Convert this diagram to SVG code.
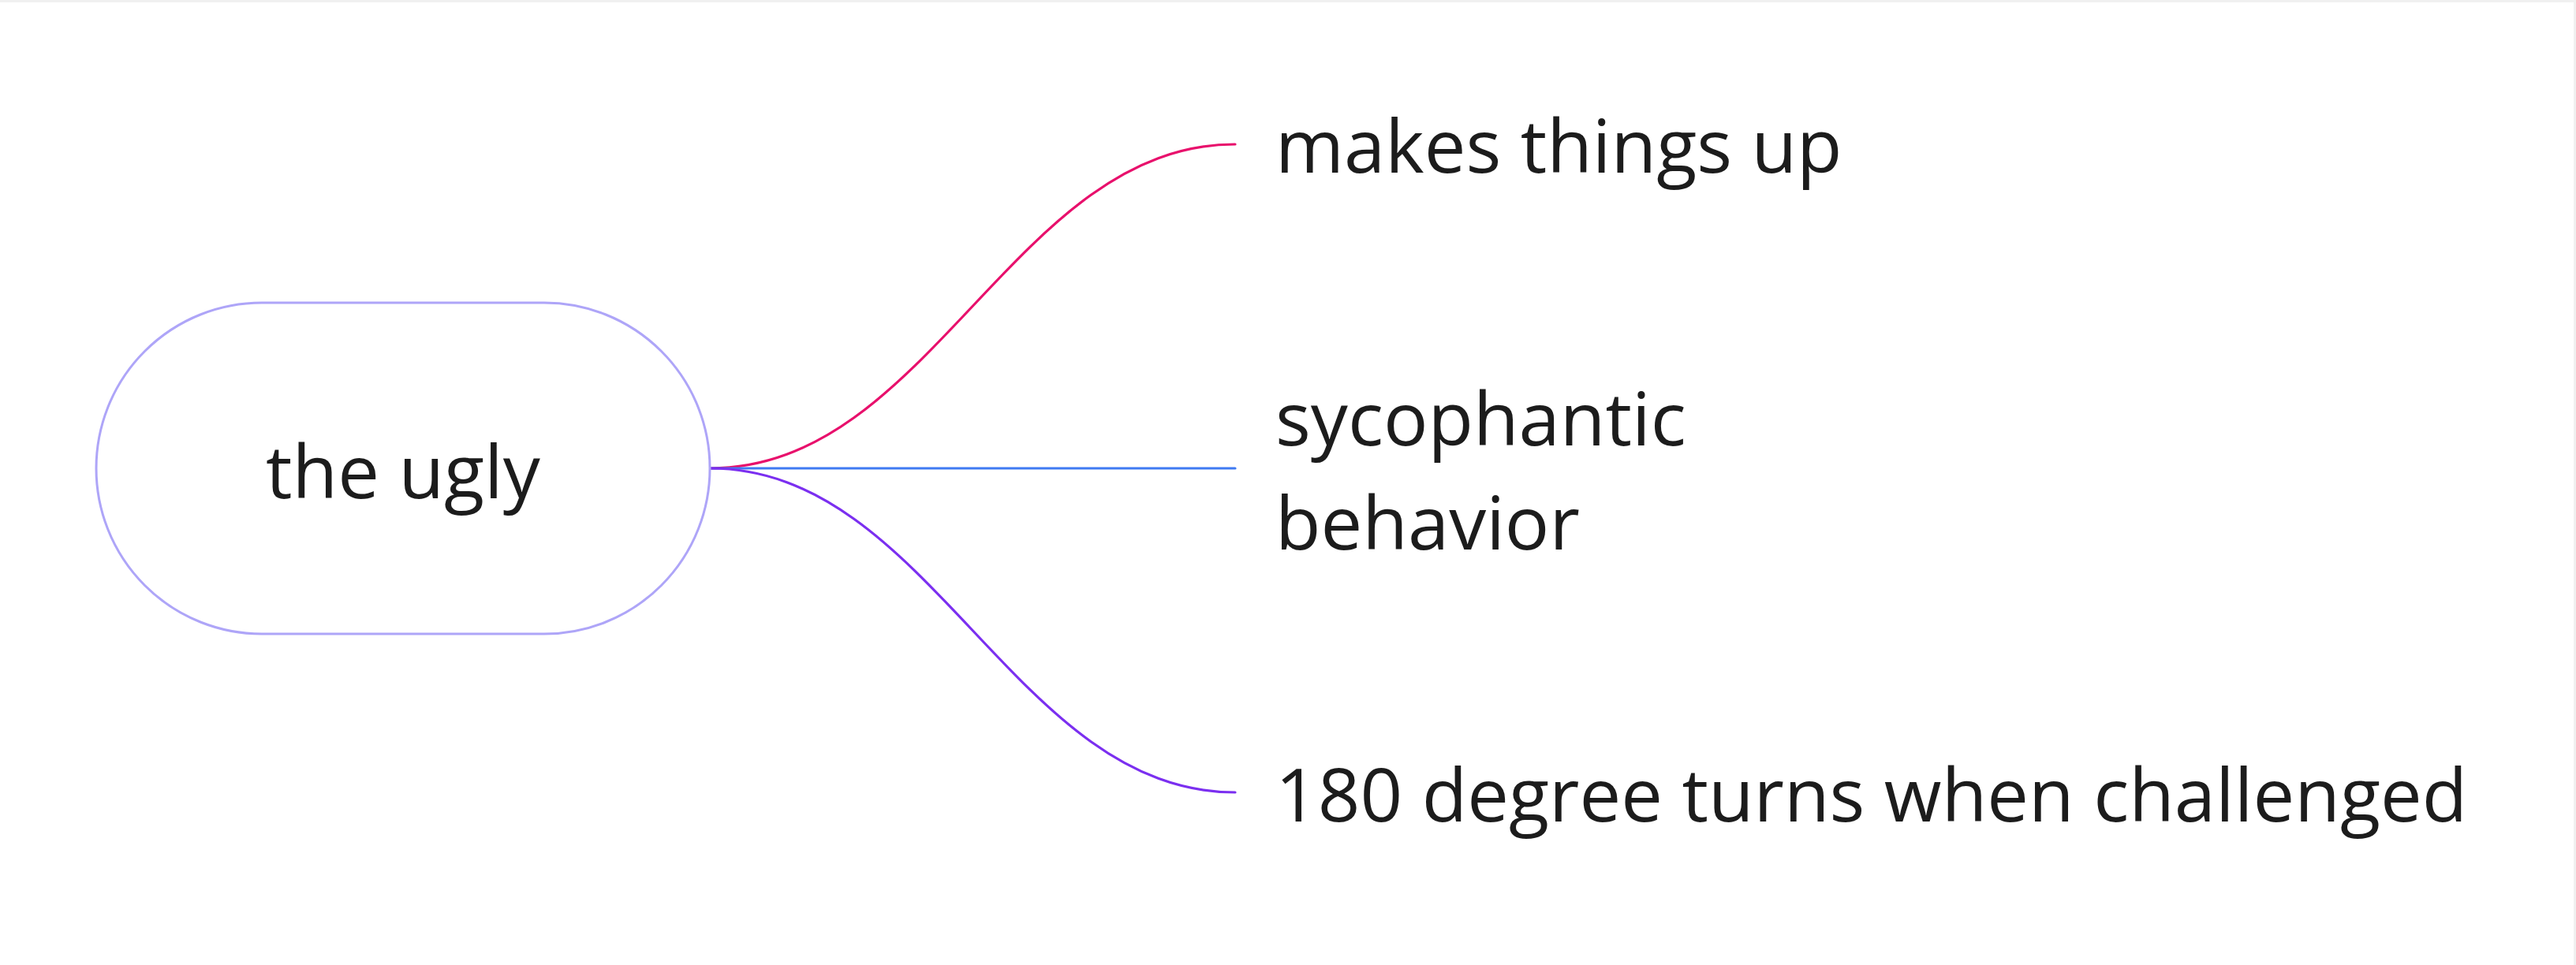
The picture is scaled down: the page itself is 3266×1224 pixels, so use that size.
<svg xmlns="http://www.w3.org/2000/svg" width="3266" height="1224" viewBox="0 0 3266 1224">
<style>
.lbl{font-family:"Open Sans","Noto Sans",sans-serif;font-size:94px;fill:#1c1c1c}
.edge{fill:none;stroke-width:3.2;stroke-linecap:round}
</style>
<rect x="0" y="0" width="3266" height="1224" fill="#ffffff"/>
<rect x="0" y="0" width="3266" height="3" fill="#f0f0f0"/>
<rect x="3263" y="0" width="3" height="1224" fill="#f0f0f0"/>
<g id="connectors">
<path class="edge" stroke="#e8106c" d="M900,594 C1180,594 1286,183 1566,183"/>
<path class="edge" stroke="#3f7af2" d="M900,594 L1566,594"/>
<path class="edge" stroke="#7b2ff0" d="M900,594 C1180,594 1286,1005 1566,1005"/>
</g>
<g id="node-root">
<rect x="122" y="384" width="778" height="420" rx="210" ry="210" fill="#ffffff" stroke="#aea5f8" stroke-width="3"/>
<text class="lbl" x="511" y="632" text-anchor="middle">the ugly</text>
</g>
<g id="node-makes">
<text class="lbl" x="1617" y="219">makes things up</text>
</g>
<g id="node-syco">
<text class="lbl" x="1617" y="565">sycophantic</text>
<text class="lbl" x="1617" y="697">behavior</text>
</g>
<g id="node-180">
<text class="lbl" x="1617" y="1042">180 degree turns when challenged</text>
</g>
</svg>
